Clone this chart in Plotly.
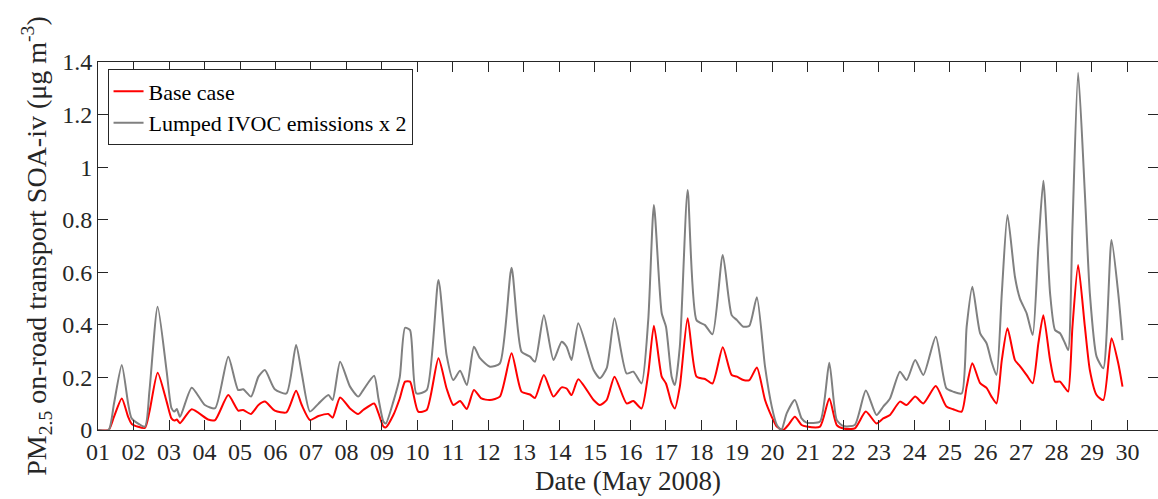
import plotly.graph_objects as go

# Time (day of May 2008) and values for each series
days_ivoc = [1.0, 1.3, 1.45, 1.67, 1.85, 1.95, 2.32, 2.45, 2.68, 2.93, 3.07, 3.15, 3.22, 3.31, 3.64,
             4.01, 4.3, 4.67, 4.95, 5.09, 5.31, 5.52, 5.7, 5.98, 6.31, 6.58, 6.74, 6.97, 7.21, 7.49,
             7.61, 7.82, 8.1, 8.33, 8.47, 8.78, 8.9, 9.04, 9.11, 9.32, 9.5, 9.65, 9.79, 9.97, 10.26,
             10.59, 10.82, 11.01, 11.2, 11.39, 11.59, 11.76, 12.04, 12.32, 12.65, 12.93, 13.17, 13.31,
             13.56, 13.83, 14.06, 14.2, 14.34, 14.53, 14.96, 15.14, 15.33, 15.55, 15.89, 16.08, 16.31,
             16.5, 16.66, 16.88, 17.0, 17.16, 17.25, 17.39, 17.61, 17.86, 18.1, 18.31, 18.6, 18.85,
             19.0, 19.18, 19.35, 19.56, 19.79, 19.98, 20.12, 20.25, 20.4, 20.63, 20.82, 20.96, 21.34,
             21.6, 21.81, 22.0, 22.32, 22.63, 22.93, 23.12, 23.31, 23.59, 23.78, 24.02, 24.25, 24.6,
             24.9, 25.09, 25.33, 25.47, 25.63, 25.85, 26.03, 26.17, 26.31, 26.46, 26.62, 26.83, 26.97,
             27.16, 27.33, 27.49, 27.63, 27.82, 27.96, 28.1, 28.24, 28.33, 28.45, 28.61, 28.8, 28.94,
             29.13, 29.32, 29.55, 29.74, 29.86]
ivoc_x2 = [0.0, 0.0, 0.1, 0.247, 0.1, 0.044, 0.013, 0.15, 0.469, 0.228, 0.083, 0.07, 0.08, 0.05, 0.161,
           0.095, 0.083, 0.279, 0.152, 0.155, 0.127, 0.203, 0.228, 0.155, 0.139, 0.323, 0.215, 0.07, 0.1, 0.133,
           0.114, 0.26, 0.165, 0.127, 0.152, 0.206, 0.12, 0.032, 0.025, 0.108, 0.2, 0.389, 0.38, 0.139, 0.152,
           0.571, 0.285, 0.19, 0.225, 0.171, 0.317, 0.273, 0.241, 0.253, 0.617, 0.298, 0.279, 0.26,
           0.437, 0.266, 0.336, 0.317, 0.266, 0.406, 0.228, 0.197, 0.235, 0.425, 0.215, 0.222, 0.177,
           0.418, 0.856, 0.444, 0.393, 0.203, 0.171, 0.317, 0.913, 0.418, 0.399, 0.364, 0.666, 0.437,
           0.418, 0.393, 0.397, 0.505, 0.241, 0.089, 0.02, 0.0, 0.063, 0.114, 0.044, 0.028, 0.032,
           0.256, 0.038, 0.015, 0.019, 0.15, 0.057, 0.089, 0.12, 0.222, 0.19, 0.266, 0.209, 0.355,
           0.158, 0.146, 0.139, 0.393, 0.545, 0.368, 0.33, 0.26, 0.209, 0.52, 0.818, 0.583, 0.5,
           0.444, 0.361, 0.697, 0.948, 0.52, 0.38, 0.368, 0.33, 0.304, 0.773, 1.359, 0.9, 0.52,
           0.279, 0.235, 0.723, 0.52, 0.342]

days_base = [1.0, 1.3, 1.45, 1.67, 1.85, 1.95, 2.32, 2.45, 2.68, 2.93, 3.07, 3.15, 3.22, 3.31, 3.64,
             4.1, 4.3, 4.67, 4.95, 5.09, 5.31, 5.52, 5.7, 5.98, 6.31, 6.58, 6.74, 6.97, 7.21, 7.49,
             7.61, 7.82, 8.1, 8.33, 8.47, 8.78, 8.9, 9.04, 9.11, 9.32, 9.5, 9.65, 9.79, 10.02, 10.26,
             10.59, 10.82, 11.01, 11.2, 11.39, 11.59, 11.8, 12.04, 12.32, 12.65, 12.93, 13.17, 13.31,
             13.56, 13.83, 14.06, 14.2, 14.34, 14.53, 14.96, 15.14, 15.33, 15.55, 15.89, 16.08, 16.31,
             16.5, 16.66, 16.88, 17.0, 17.16, 17.25, 17.39, 17.61, 17.86, 18.1, 18.31, 18.6, 18.85,
             19.0, 19.18, 19.35, 19.56, 19.79, 19.98, 20.12, 20.3, 20.45, 20.63, 20.82, 20.96, 21.34,
             21.6, 21.81, 22.0, 22.32, 22.63, 22.93, 23.12, 23.31, 23.59, 23.78, 24.02, 24.25, 24.6,
             24.9, 25.09, 25.33, 25.47, 25.63, 25.85, 26.03, 26.17, 26.31, 26.46, 26.62, 26.83, 26.97,
             27.16, 27.33, 27.49, 27.63, 27.82, 27.96, 28.1, 28.24, 28.33, 28.45, 28.61, 28.8, 28.94,
             29.13, 29.32, 29.55, 29.74, 29.86]
base_case = [0.0, 0.0, 0.05, 0.12, 0.05, 0.023, 0.008, 0.07, 0.218, 0.11, 0.044, 0.036, 0.04, 0.026, 0.079,
             0.04, 0.038, 0.133, 0.074, 0.076, 0.061, 0.095, 0.108, 0.074, 0.067, 0.149, 0.095, 0.038, 0.053, 0.061,
             0.047, 0.124, 0.082, 0.061, 0.076, 0.101, 0.064, 0.013, 0.01, 0.057, 0.12, 0.184, 0.184, 0.07, 0.076,
             0.273, 0.158, 0.095, 0.11, 0.08, 0.152, 0.12, 0.114, 0.127, 0.292, 0.146, 0.135, 0.122,
             0.209, 0.127, 0.162, 0.158, 0.133, 0.193, 0.114, 0.095, 0.114, 0.203, 0.101, 0.11, 0.082,
             0.215, 0.397, 0.203, 0.177, 0.101, 0.082, 0.165, 0.425, 0.203, 0.194, 0.177, 0.315, 0.209,
             0.203, 0.19, 0.19, 0.238, 0.114, 0.05, 0.013, 0.0, 0.02, 0.05, 0.019, 0.013, 0.013,
             0.12, 0.019, 0.006, 0.006, 0.07, 0.025, 0.044, 0.057, 0.108, 0.095, 0.127, 0.101, 0.167,
             0.089, 0.079, 0.07, 0.165, 0.254, 0.178, 0.16, 0.127, 0.101, 0.266, 0.387, 0.266, 0.243,
             0.209, 0.178, 0.33, 0.437, 0.266, 0.184, 0.184, 0.16, 0.146, 0.393, 0.628, 0.393, 0.228,
             0.133, 0.114, 0.349, 0.254, 0.165]

tick_days = list(range(1, 31))
tick_labels = [f"{d:02d}" for d in tick_days]
y_ticks = [0, 0.2, 0.4, 0.6, 0.8, 1.0, 1.2, 1.4]
x_title = "Date (May 2008)"
y_title = "PM<sub>2.5</sub> on-road transport SOA-iv (μg m<sup>-3</sup>)"

FONT = "Liberation Serif, Times New Roman, serif"
AX = "#262626"

fig = go.Figure()
fig.add_trace(go.Scatter(x=days_base, y=base_case, mode="lines", name="Base case",
                         line=dict(color="#ff0000", width=2, shape="spline", smoothing=0.6)))
fig.add_trace(go.Scatter(x=days_ivoc, y=ivoc_x2, mode="lines", name="Lumped IVOC emissions x 2",
                         line=dict(color="#808080", width=2, shape="spline", smoothing=0.6)))

fig.update_layout(
    width=1158, height=499,
    margin=dict(l=98, r=0, t=62, b=69),
    paper_bgcolor="white", plot_bgcolor="white",
    font=dict(family=FONT, size=24, color=AX),
    showlegend=True,
    legend=dict(x=0.009, y=0.98, xanchor="left", yanchor="top",
                bgcolor="white", bordercolor=AX, borderwidth=1,
                font=dict(family=FONT, size=22, color="#000000"),
                tracegroupgap=0, itemwidth=30),
    xaxis=dict(range=[1, 30.86], tickvals=tick_days, ticktext=tick_labels,
               ticks="inside", ticklen=10, tickwidth=1, tickcolor=AX,
               showline=True, linecolor=AX, linewidth=1, mirror="ticks",
               showgrid=False, zeroline=False,
               tickfont=dict(family=FONT, size=24, color=AX)),
    yaxis=dict(range=[0, 1.4], tickvals=y_ticks,
               ticks="inside", ticklen=10, tickwidth=1, tickcolor=AX,
               showline=True, linecolor=AX, linewidth=1, mirror="ticks",
               showgrid=False, zeroline=False,
               tickfont=dict(family=FONT, size=24, color=AX),
               title=dict(text=y_title, font=dict(family=FONT, size=28, color=AX), standoff=7)),
    annotations=[dict(text=x_title, xref="paper", yref="paper", x=0.5, y=0,
                      xanchor="center", yanchor="middle", yshift=-51, showarrow=False,
                      font=dict(family=FONT, size=27, color=AX))],
)

fig.write_html("out.html")
